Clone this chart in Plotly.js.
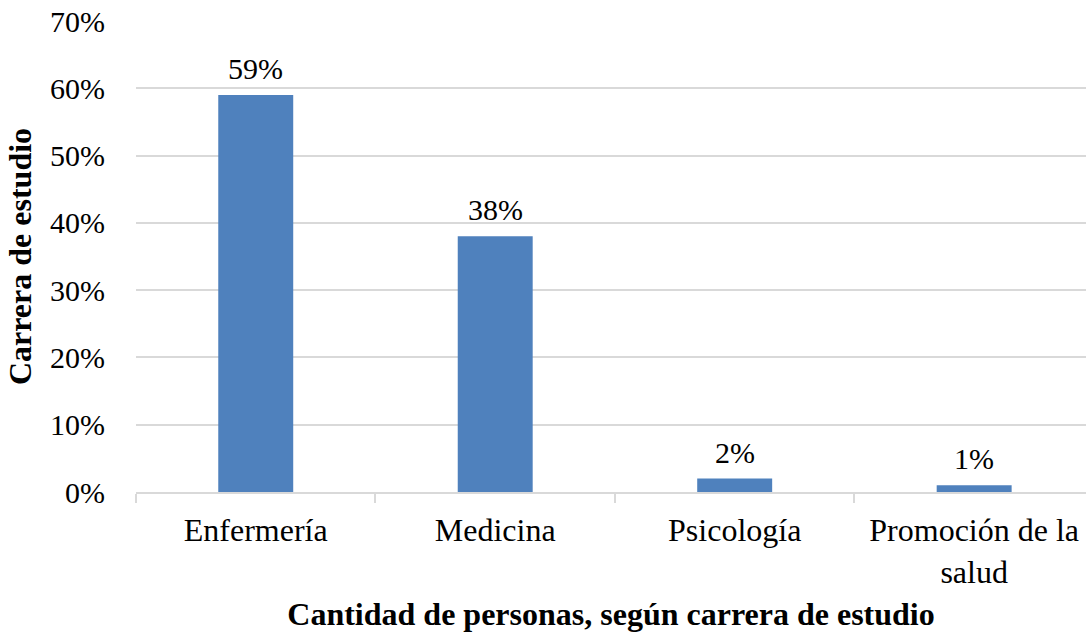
<!DOCTYPE html>
<html>
<head>
<meta charset="utf-8">
<script src="https://cdn.plot.ly/plotly-3.0.1.min.js"></script>
<style>html,body{margin:0;padding:0;background:#fff;}#chart{width:1086px;height:632px;}</style>
</head>
<body>
<div id="chart"></div>
<script>
const categories = ["Enfermería", "Medicina", "Psicología", "Promoción de la<br>salud"];
const values = [0.59, 0.38, 0.02, 0.01];
const yTickVals = [0, 0.1, 0.2, 0.3, 0.4, 0.5, 0.6, 0.7];
const yTitle = "Carrera de estudio";
const xTitle = "Cantidad de personas, según carrera de estudio";

const FONT = "'Liberation Serif', 'Times New Roman', serif";

const trace = {
  type: "bar",
  x: categories,
  y: values,
  width: 0.313,
  marker: { color: "#4f81bd" },
  hoverinfo: "none"
};

const annotations = categories.map((c, i) => ({
  x: c,
  y: values[i],
  xref: "x",
  yref: "y",
  text: Math.round(values[i] * 100) + "%",
  showarrow: false,
  yanchor: "bottom",
  yshift: 8,
  font: { family: FONT, size: 30, color: "#000" }
}));

const layout = {
  width: 1086,
  height: 632,
  margin: { l: 136, r: 0, t: 21, b: 140 },
  paper_bgcolor: "#fff",
  plot_bgcolor: "#fff",
  showlegend: false,
  font: { family: FONT, size: 30, color: "#000" },
  annotations: annotations,
  xaxis: {
    type: "category",
    range: [-0.5, 3.467],
    showline: true,
    linecolor: "#d9d9d9",
    linewidth: 2,
    ticks: "outside",
    tickson: "boundaries",
    ticklen: 9,
    tickwidth: 2,
    tickcolor: "#d9d9d9",
    ticklabelstandoff: 9,
    showgrid: false,
    tickfont: { family: FONT, size: 32, color: "#000" },
    title: { text: xTitle, font: { family: FONT, size: 32, color: "#000", weight: "bold" }, standoff: 16 }
  },
  yaxis: {
    range: [0, 0.7],
    tickvals: yTickVals,
    tickformat: ".0%",
    showgrid: true,
    gridcolor: "#d9d9d9",
    gridwidth: 2,
    zeroline: false,
    showline: false,
    ticks: "",
    ticklabelstandoff: 30,
    tickfont: { family: FONT, size: 30, color: "#000" },
    title: { text: yTitle, font: { family: FONT, size: 32, color: "#000", weight: "bold" }, standoff: 8 }
  }
};

Plotly.newPlot("chart", [trace], layout, { displayModeBar: false, staticPlot: true });
</script>
</body>
</html>
